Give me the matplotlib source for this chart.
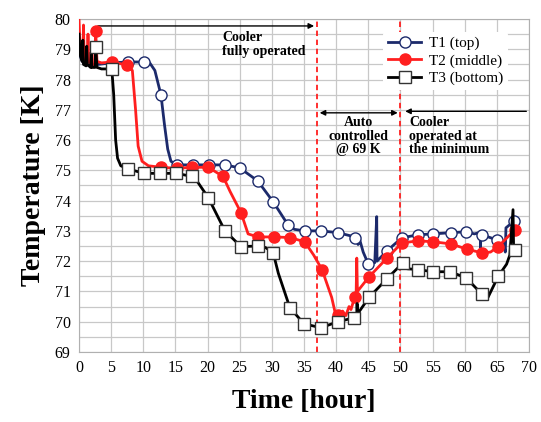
import matplotlib.pyplot as plt
from matplotlib.lines import Line2D

plt.rcParams['font.family'] = ['Liberation Serif', 'DejaVu Serif']

# line traces (time [h], temperature [K])
t1_t = [0, 0.5, 1, 2, 3, 5, 7.6, 10.1, 11, 11.8, 12.75, 13.3, 13.8, 14.3, 15.2, 17.7,
        20.2, 22.7, 25.0, 27.8, 30.2, 32.5, 33.5, 35.1, 37.6, 40.3, 42.9, 43.2, 43.4,
        43.6, 44.2, 45.0, 46.0, 46.3, 46.35, 47.9, 50.2, 52.7, 55.1, 57.8, 60.2, 61.5,
        62.4, 62.45, 62.5, 62.7, 65.0, 66.0, 66.3, 66.4, 67.7]
t1_v = [78.9, 78.6, 78.5, 78.45, 78.5, 78.55, 78.58, 78.58, 78.55, 78.3, 77.49, 76.5,
        75.7, 75.3, 75.18, 75.18, 75.18, 75.18, 75.08, 74.65, 73.96, 73.2, 73.05, 73.0,
        73.0, 72.94, 72.8, 72.85, 72.55, 72.75, 72.3, 71.9, 71.95, 73.47, 72.0, 72.34,
        72.77, 72.87, 72.9, 72.94, 72.97, 72.9, 72.95, 72.45, 72.9, 72.87, 72.7, 72.65,
        72.3, 73.1, 73.33]
t1_mt = [7.6, 10.1, 12.75, 15.2, 17.7, 20.2, 22.7, 25.0, 27.8, 30.2, 32.5, 35.1, 37.6,
         40.3, 42.9, 45.0, 47.9, 50.2, 52.7, 55.1, 57.8, 60.2, 62.7, 65.0, 67.7]
t1_mv = [78.58, 78.58, 77.49, 75.18, 75.18, 75.18, 75.18, 75.08, 74.65, 73.96, 73.2,
         73.0, 73.0, 72.94, 72.76, 71.9, 72.34, 72.77, 72.87, 72.9, 72.94, 72.97, 72.87,
         72.7, 73.33]

t2_t = [0, 0.2, 0.6, 0.7, 0.8, 1.3, 1.4, 1.5, 2.0, 2.4, 2.6, 2.8, 3.5, 5.1, 7.5, 8.3,
        8.8, 9.2, 9.8, 10.8, 12.75, 15.2, 17.6, 20.1, 22.4, 23.5, 25.2, 26.3, 27.8, 30.3,
        32.8, 35.1, 36.5, 37.8, 39.3, 40.0, 40.5, 41.0, 41.5, 42.0, 42.3, 42.9, 43.1,
        43.2, 43.3, 45.1, 47.9, 50.2, 52.7, 55.1, 57.8, 60.3, 62.7, 64.0, 65.2, 67.8]
t2_v = [80.0, 78.9, 78.6, 79.8, 78.7, 78.55, 79.5, 78.6, 78.5, 78.5, 79.6, 78.6, 78.55,
        78.58, 78.48, 78.3, 77.0, 75.8, 75.3, 75.15, 75.1, 75.07, 75.1, 75.1, 74.8, 74.3,
        73.6, 72.9, 72.8, 72.8, 72.78, 72.64, 72.2, 71.72, 70.8, 70.15, 70.13, 70.35,
        70.2, 70.5, 70.4, 70.83, 70.9, 72.1, 71.0, 71.48, 72.1, 72.6, 72.67, 72.64,
        72.57, 72.4, 72.27, 72.3, 72.48, 73.04]
t2_mt = [2.6, 5.1, 7.5, 12.75, 15.2, 17.6, 20.1, 22.4, 25.2, 27.8, 30.3, 32.8, 35.1,
         37.8, 40.3, 42.9, 45.1, 47.9, 50.2, 52.7, 55.1, 57.8, 60.3, 62.7, 65.2, 67.8]
t2_mv = [79.6, 78.58, 78.48, 75.1, 75.07, 75.1, 75.1, 74.8, 73.6, 72.8, 72.8, 72.78,
         72.64, 71.72, 70.23, 70.83, 71.48, 72.1, 72.6, 72.67, 72.64, 72.57, 72.4, 72.27,
         72.48, 73.04]

t3_t = [0, 0.2, 0.5, 0.6, 0.7, 1.1, 1.2, 1.3, 1.8, 1.9, 2.0, 2.5, 2.6, 2.8, 3.5, 5.1,
        5.4, 5.7, 6.0, 6.5, 7.6, 10.1, 12.6, 15.1, 17.6, 18.5, 20.1, 22.7, 25.2, 27.8,
        29.0, 30.2, 31.0, 32.8, 35.0, 37.6, 40.3, 42.8, 43.2, 43.25, 43.3, 45.1, 47.9,
        50.4, 51.0, 52.7, 55.1, 57.7, 60.2, 62.7, 63.6, 65.2, 66.5, 67.0, 67.5, 67.6,
        67.8]
t3_v = [79.5, 78.8, 78.6, 79.3, 78.5, 78.45, 79.1, 78.5, 78.4, 78.9, 78.4, 78.4, 79.08,
        78.4, 78.35, 78.35, 77.5, 76.0, 75.4, 75.15, 75.05, 74.9, 74.9, 74.9, 74.8, 74.6,
        74.1, 73.0, 72.48, 72.5, 72.45, 72.28, 71.6, 70.46, 69.93, 69.8, 70.0, 70.13,
        70.2, 70.6, 70.25, 70.8, 71.42, 71.95, 71.75, 71.72, 71.65, 71.65, 71.45, 70.9,
        70.8, 71.5, 71.9, 72.2, 73.7, 72.3, 72.38]
t3_mt = [2.6, 5.1, 7.6, 10.1, 12.6, 15.1, 17.6, 20.1, 22.7, 25.2, 27.8, 30.2, 32.8,
         35.0, 37.6, 40.3, 42.8, 45.1, 47.9, 50.4, 52.7, 55.1, 57.7, 60.2, 62.7, 65.2,
         67.8]
t3_mv = [79.08, 78.35, 75.05, 74.9, 74.9, 74.9, 74.8, 74.1, 73.0, 72.48, 72.5, 72.28,
         70.46, 69.93, 69.8, 70.0, 70.13, 70.8, 71.42, 71.95, 71.72, 71.65, 71.65, 71.45,
         70.9, 71.5, 72.38]

labels = ['T1 (top)', 'T2 (middle)', 'T3 (bottom)']
navy = '#1c2a6b'
red = '#ff1f1f'

fig = plt.figure(figsize=(5.41, 4.22), dpi=100)
ax = fig.add_axes([0.146, 0.166, 0.832, 0.789])

ax.plot(t1_t, t1_v, color=navy, lw=2, zorder=3)
ax.plot(t1_mt, t1_mv, ls='none', marker='o', ms=8, mfc='white', mec=navy, mew=1,
        zorder=3.5)
ax.plot(t2_t, t2_v, color=red, lw=2, zorder=4)
ax.plot(t2_mt, t2_mv, ls='none', marker='o', ms=8, mfc=red, mec=red, zorder=4.5)
ax.plot(t3_t, t3_v, color='black', lw=2, zorder=5)
ax.plot(t3_mt, t3_mv, ls='none', marker='s', ms=8, mfc='white', mec='#333333',
        mew=1, zorder=5.5)

# phase boundaries
for xv in [37, 50]:
    ax.plot([xv, xv], [69, 80], color=red, ls=(0, (3, 2)), lw=1.3, zorder=2)

ax.annotate('', xy=(37, 79.77), xytext=(2.5, 79.77),
            arrowprops=dict(arrowstyle='-|>', color='black', lw=1, mutation_scale=8))
ax.annotate('', xy=(50, 76.9), xytext=(37, 76.9),
            arrowprops=dict(arrowstyle='<|-|>', color='black', lw=1, mutation_scale=8))
ax.annotate('', xy=(50.3, 76.95), xytext=(70, 76.95),
            arrowprops=dict(arrowstyle='-|>', color='black', lw=1, mutation_scale=8))

ax.text(22.3, 79.6, 'Cooler\nfully operated', fontsize=10, fontweight='bold',
        va='top', ha='left', linespacing=1.1)
ax.text(43.5, 76.78, 'Auto\ncontrolled\n@ 69 K', fontsize=10, fontweight='bold',
        va='top', ha='center', linespacing=1.05)
ax.text(51.4, 76.78, 'Cooler\noperated at\nthe minimum', fontsize=10,
        fontweight='bold', va='top', ha='left', linespacing=1.05)

ax.set_xlim(0, 70)
ax.set_ylim(69, 80)
ax.set_xticks(range(0, 71, 5))
ax.set_yticks(range(69, 81))
ax.set_yticks([v + 0.5 for v in range(69, 80)], minor=True)
ax.grid(which='both', axis='y', color='#c8c8c8', lw=0.9)
ax.grid(which='major', axis='x', color='#c8c8c8', lw=0.9)
ax.set_axisbelow(True)
ax.tick_params(which='both', length=0, labelsize=11.5, pad=6)
for s in ax.spines.values():
    s.set_color('#b0b0b0')

ax.set_xlabel('Time [hour]', fontsize=20, fontweight='bold', labelpad=9)
ax.set_ylabel('Temperature [K]', fontsize=20, fontweight='bold', labelpad=6)

handles = [
    Line2D([], [], color=navy, lw=2, marker='o', ms=8, mfc='white', mec=navy),
    Line2D([], [], color=red, lw=2, marker='o', ms=8, mfc=red, mec=red),
    Line2D([], [], color='black', lw=2, marker='s', ms=8, mfc='white', mec='#333333'),
]
leg = ax.legend(handles, labels, loc='upper right', bbox_to_anchor=(0.97, 0.985),
                fontsize=11, frameon=True, framealpha=1, edgecolor='white',
                handlelength=2.2, borderpad=0.3, labelspacing=0.25, handletextpad=0.5)
leg.get_frame().set_linewidth(0)

fig.savefig('out.png', dpi=100)
